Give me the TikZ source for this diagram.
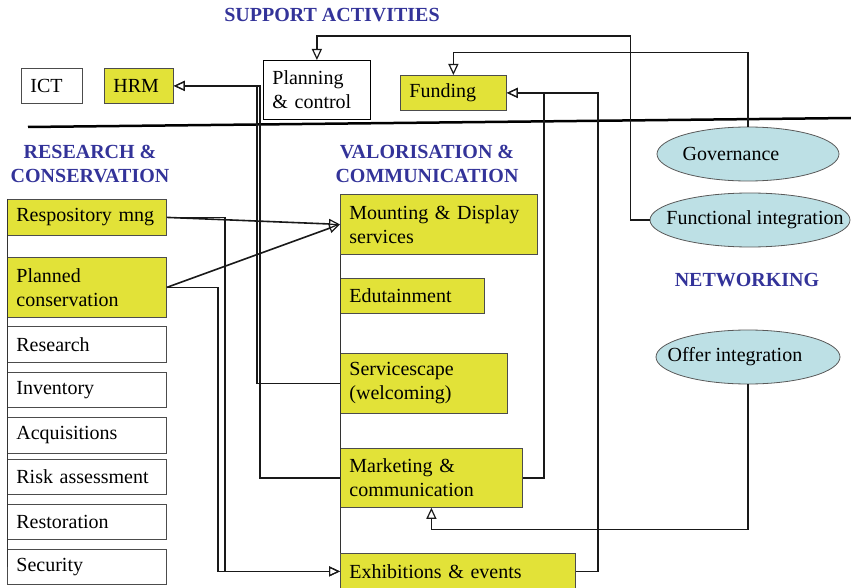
\documentclass[tikz,border=0pt]{standalone}
\usepackage{fontspec}
\setmainfont{Liberation Serif}
\usetikzlibrary{arrows.meta,shapes.geometric}
\definecolor{boxyellow}{RGB}{226,226,56}
\definecolor{ovalblue}{RGB}{189,224,229}
\definecolor{headblue}{RGB}{51,51,153}

\begin{document}
\begin{tikzpicture}[x=1pt, y=-1pt,
    every node/.style={font=\fontsize{20}{24}\selectfont},
    box/.style={draw=black!70, line width=0.8pt, anchor=north west, inner xsep=9pt, inner ysep=0pt, align=left},
    yelbox/.style={box, fill=boxyellow},
    oval/.style={draw=black!65, line width=0.8pt, fill=ovalblue, ellipse, inner sep=0pt, minimum width=182pt, minimum height=54pt},
    head/.style={font=\fontsize{20}{24}\selectfont\bfseries, text=headblue, align=center},
    link/.style={draw=black!90, line width=1.6pt},
    arr/.style={link, -{Triangle[open, length=11pt, width=10pt, line width=1.2pt]}}]
    \useasboundingbox (0,0) rectangle (851,588);

    % Headings
    \node[head] (suphead) at (332,15) {SUPPORT ACTIVITIES};
    \node[head] (reshead) at (90,164) {RESEARCH \&\\CONSERVATION};
    \node[head] (valhead) at (427,164) {VALORISATION \&\\COMMUNICATION};
    \node[head] (nethead) at (747,280) {NETWORKING};

    % Support activities
    \node[box, text width=43pt, minimum height=35pt] (ict) at (21,68) {ICT};
    \node[yelbox, text width=51pt, minimum height=35pt] (hrm) at (104,68) {HRM};
    \node[box, draw=black, text width=89pt, minimum height=59pt] (plan) at (263,60) {Planning\\\& control};
    \node[yelbox, text width=88pt, minimum height=35pt] (fund) at (400,75) {Funding};
    \draw[line width=2.5pt] (28,127) -- (851,118);

    % Research & conservation
    \node[yelbox, text width=141pt, minimum height=36pt] (rep) at (7,199) {Respository mng};
    \node[yelbox, text width=141pt, minimum height=60pt] (pcons) at (7,257) {Planned\\conservation};
    \node[box, text width=141pt, minimum height=36pt] (research) at (7,326) {Research};
    \node[box, text width=141pt, minimum height=35pt] (inv) at (7,372) {Inventory};
    \node[box, text width=141pt, minimum height=36pt] (acq) at (7,417) {Acquisitions};
    \node[box, text width=141pt, minimum height=35pt] (risk) at (7,459) {Risk assessment};
    \node[box, text width=141pt, minimum height=35pt] (rest) at (7,504) {Restoration};
    \node[box, text width=141pt, minimum height=35pt] (sec) at (7,549) {Security};
    \draw[black!80, line width=1pt] (rep.north west) -- (rep.north west |- sec.west);

    % Valorisation & communication
    \node[yelbox, text width=179pt, minimum height=60pt] (mount) at (340,194) {Mounting \& Display\\services};
    \node[yelbox, text width=126pt, minimum height=35pt] (edu) at (340,278) {Edutainment};
    \node[yelbox, text width=149pt, minimum height=60pt] (svc) at (340,353) {Servicescape\\(welcoming)};
    \node[yelbox, text width=164pt, minimum height=59pt] (mkt) at (340,448) {Marketing \&\\communication};
    \node[yelbox, text width=217pt, minimum height=36pt] (exh) at (340,553) {Exhibitions \& events};
    \draw[black!80, line width=1pt] (mount.south west) -- (exh.north west);

    % Networking
    \node[oval] (gov) at (748,154) {\makebox[0pt]{Governance\hspace*{34pt}}};
    \node[oval, minimum width=200pt] (func) at (750,220) {\makebox[0pt]{\hspace*{10pt}Functional integration}};
    \node[oval, minimum width=184pt] (offer) at (748,357) {\makebox[0pt]{Offer integration\hspace*{26pt}}};

    % Networking feedback
    \draw[arr] (gov.north) -- ++(0,-74) -| (fund.north);
    \draw[arr] (func.west) -- ++(-19,0) -- ++(0,-184) -| (plan.north);
    \draw[arr] (offer.south) -- ++(0,145) -| (mkt.south);

    % Back to support activities
    \draw[arr] (mkt.east) -- ++(21,0) |- (fund.east);
    \draw[arr] (exh.east) -- ++(22,0) |- (fund.east);
    \draw[arr] (svc.west) -- ++(-83,0) |- (hrm.east);
    \draw[arr] (mkt.west) -- ++(-80,0) |- (hrm.east);

    % Conservation to valorisation
    \draw[arr] (rep.east) -- (mount.west);
    \draw[arr] (pcons.east) -- (mount.west);
    \draw[arr] (rep.east) -- ++(58,0) |- (exh.west);
    \draw[arr] (pcons.east) -- ++(51,0) |- (exh.west);
\end{tikzpicture}
\end{document}
